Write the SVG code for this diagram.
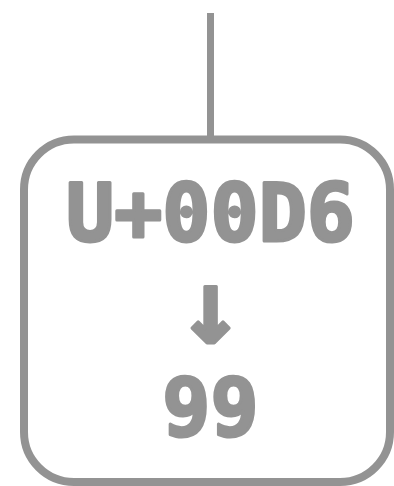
<svg xmlns="http://www.w3.org/2000/svg" width="394" height="486" viewBox="0 0 394 486">
<style>
.edge{stroke:#939393;stroke-width:7;fill:none}
.box{stroke:#939393;stroke-width:8;fill:#ffffff}
.lbl{font-family:"DejaVu Sans Mono",monospace;font-weight:bold;fill:#939393;stroke:#939393;stroke-width:3;stroke-linejoin:round;text-anchor:middle}
</style>
<rect width="394" height="486" fill="#ffffff"/>
<g id="connectors">
<line class="edge" x1="210.5" y1="13" x2="210.5" y2="139"/>
</g>
<g id="node">
<rect class="box" x="24" y="139.5" width="366" height="342.5" rx="50" ry="50"/>
<text class="lbl" x="210.5" y="241" font-size="80">U+00D6</text>
<text class="lbl" x="210.5" y="343" font-size="105" stroke-width="4">↓</text>
<text class="lbl" x="210.5" y="435" font-size="80">99</text>
</g>
</svg>
